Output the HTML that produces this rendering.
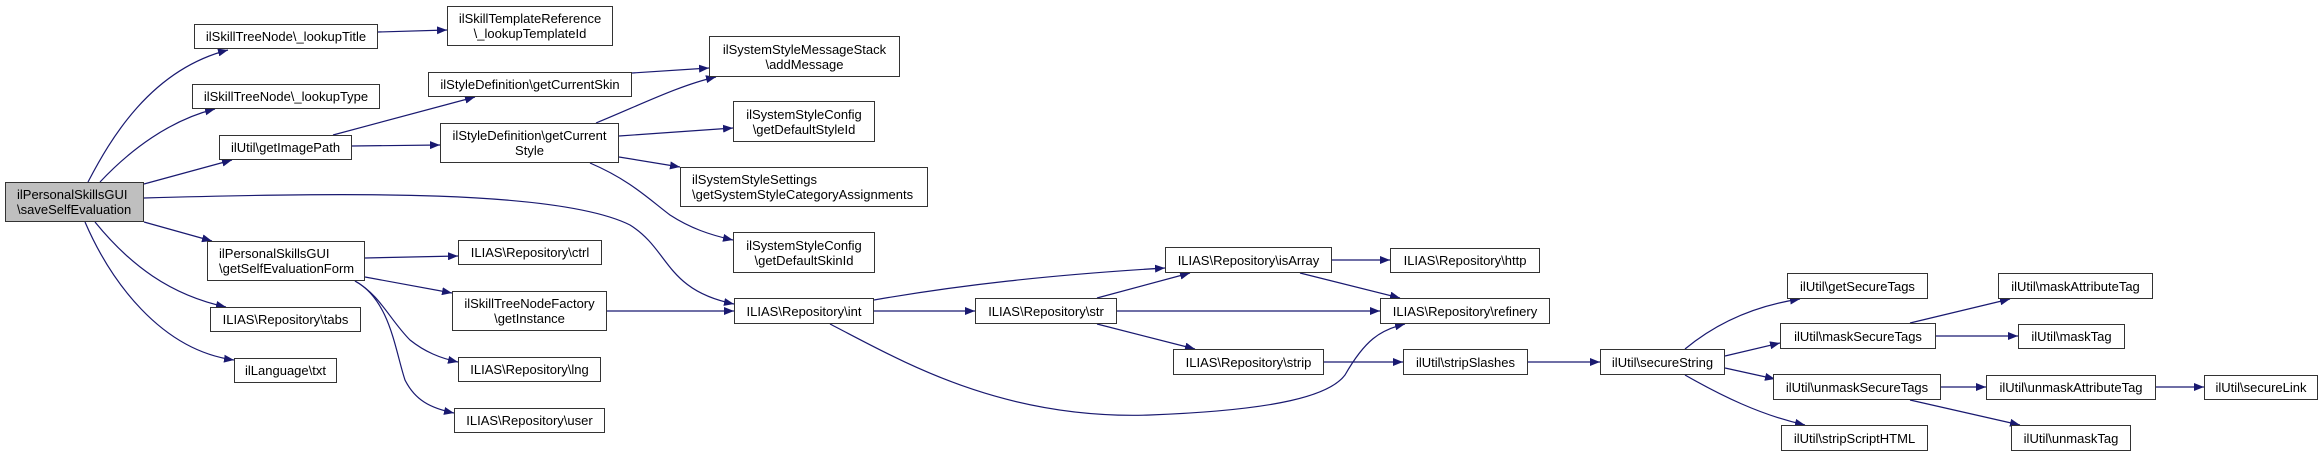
<!DOCTYPE html>
<html><head><meta charset="utf-8"><style>
html,body{margin:0;padding:0;background:#fff;}
#c{position:relative;width:2324px;height:457px;overflow:hidden;font-family:"Liberation Sans",Arial,sans-serif;font-size:13px;color:#000;}
.b{position:absolute;box-sizing:border-box;border:1.3px solid #333;background:#fff;display:flex;flex-direction:column;justify-content:center;align-items:center;line-height:15px;white-space:nowrap;}
.l{align-items:flex-start;padding-left:11px;}
svg{position:absolute;left:0;top:0;}
</style></head><body><div id="c">
<svg width="2324" height="457" viewBox="0 0 2324 457">
<defs><marker id="a" markerWidth="10" markerHeight="8" refX="10" refY="4" orient="auto" markerUnits="userSpaceOnUse"><path d="M0,0 L10,4 L0,8 z" fill="#191970"/></marker></defs>
<g fill="none" stroke="#191970" stroke-width="1.2" marker-end="url(#a)">
<path d="M88,182 C110,140 150,70 228,50"/>
<path d="M100,182 C130,150 170,120 215,109"/>
<path d="M144,184 L232,160"/>
<path d="M144,198 C350,192 560,190 630,225 C670,250 665,290 734,304"/>
<path d="M144,222 L212,241"/>
<path d="M95,222 C130,265 170,295 226,307"/>
<path d="M85,222 C110,280 160,350 234,360"/>
<path d="M378,32 L447,30"/>
<path d="M333,135 L475,97"/>
<path d="M352,146 L440,145"/>
<path d="M596,123 C640,105 680,85 716,77"/>
<path d="M632,73 L709,68"/>
<path d="M619,136 L733,128"/>
<path d="M619,157 L680,167"/>
<path d="M590,163 C630,180 650,200 670,215 C690,228 710,235 733,240"/>
<path d="M365,258 L458,256"/>
<path d="M365,277 L452,293"/>
<path d="M355,281 C380,295 390,320 410,340 C425,352 440,358 458,362"/>
<path d="M355,281 C390,300 395,350 405,380 C415,400 430,408 454,413"/>
<path d="M607,311 L734,311"/>
<path d="M874,311 L975,311"/>
<path d="M874,300 C960,285 1050,275 1165,268"/>
<path d="M830,324 C900,360 1000,420 1150,415 C1280,410 1330,395 1345,375 C1365,340 1380,330 1405,324"/>
<path d="M1097,298 L1190,273"/>
<path d="M1117,311 L1380,311"/>
<path d="M1097,324 L1195,349"/>
<path d="M1332,260 L1390,260"/>
<path d="M1300,273 L1400,298"/>
<path d="M1324,362 L1403,362"/>
<path d="M1528,362 L1600,362"/>
<path d="M1685,349 C1720,320 1760,305 1800,299"/>
<path d="M1725,356 L1780,343"/>
<path d="M1725,368 L1775,379"/>
<path d="M1685,375 C1720,395 1760,415 1805,425"/>
<path d="M1910,323 L2010,299"/>
<path d="M1936,336 L2018,336"/>
<path d="M1941,387 L1986,387"/>
<path d="M1910,400 L2020,425"/>
<path d="M2156,387 L2204,387"/>
</g></svg>
<div class="b l" style="left:5px;top:182px;width:139px;height:40px;background:#bfbfbf"><div>ilPersonalSkillsGUI</div><div>\saveSelfEvaluation</div></div>
<div class="b" style="left:194px;top:24px;width:184px;height:25px">ilSkillTreeNode\_lookupTitle</div>
<div class="b" style="left:447px;top:6px;width:166px;height:40px"><div>ilSkillTemplateReference</div><div>\_lookupTemplateId</div></div>
<div class="b" style="left:192px;top:84px;width:188px;height:25px">ilSkillTreeNode\_lookupType</div>
<div class="b" style="left:219px;top:135px;width:133px;height:25px">ilUtil\getImagePath</div>
<div class="b" style="left:428px;top:72px;width:204px;height:25px">ilStyleDefinition\getCurrentSkin</div>
<div class="b" style="left:440px;top:123px;width:179px;height:40px"><div>ilStyleDefinition\getCurrent</div><div>Style</div></div>
<div class="b l" style="left:207px;top:241px;width:158px;height:40px"><div>ilPersonalSkillsGUI</div><div>\getSelfEvaluationForm</div></div>
<div class="b" style="left:458px;top:240px;width:144px;height:25px">ILIAS\Repository\ctrl</div>
<div class="b" style="left:452px;top:291px;width:155px;height:40px"><div>ilSkillTreeNodeFactory</div><div>\getInstance</div></div>
<div class="b" style="left:458px;top:357px;width:143px;height:25px">ILIAS\Repository\lng</div>
<div class="b" style="left:454px;top:408px;width:151px;height:25px">ILIAS\Repository\user</div>
<div class="b" style="left:210px;top:307px;width:151px;height:25px">ILIAS\Repository\tabs</div>
<div class="b" style="left:234px;top:358px;width:103px;height:25px">ilLanguage\txt</div>
<div class="b" style="left:709px;top:36px;width:191px;height:41px"><div>ilSystemStyleMessageStack</div><div>\addMessage</div></div>
<div class="b" style="left:733px;top:101px;width:142px;height:41px"><div>ilSystemStyleConfig</div><div>\getDefaultStyleId</div></div>
<div class="b l" style="left:680px;top:167px;width:248px;height:40px"><div>ilSystemStyleSettings</div><div>\getSystemStyleCategoryAssignments</div></div>
<div class="b" style="left:733px;top:232px;width:142px;height:41px"><div>ilSystemStyleConfig</div><div>\getDefaultSkinId</div></div>
<div class="b" style="left:734px;top:298px;width:140px;height:26px">ILIAS\Repository\int</div>
<div class="b" style="left:975px;top:298px;width:142px;height:26px">ILIAS\Repository\str</div>
<div class="b" style="left:1165px;top:247px;width:167px;height:26px">ILIAS\Repository\isArray</div>
<div class="b" style="left:1173px;top:349px;width:151px;height:26px">ILIAS\Repository\strip</div>
<div class="b" style="left:1390px;top:248px;width:150px;height:25px">ILIAS\Repository\http</div>
<div class="b" style="left:1380px;top:298px;width:170px;height:26px">ILIAS\Repository\refinery</div>
<div class="b" style="left:1403px;top:349px;width:125px;height:26px">ilUtil\stripSlashes</div>
<div class="b" style="left:1600px;top:349px;width:125px;height:26px">ilUtil\secureString</div>
<div class="b" style="left:1787px;top:273px;width:141px;height:26px">ilUtil\getSecureTags</div>
<div class="b" style="left:1780px;top:323px;width:156px;height:26px">ilUtil\maskSecureTags</div>
<div class="b" style="left:1773px;top:374px;width:168px;height:26px">ilUtil\unmaskSecureTags</div>
<div class="b" style="left:1781px;top:425px;width:147px;height:26px">ilUtil\stripScriptHTML</div>
<div class="b" style="left:1998px;top:273px;width:155px;height:26px">ilUtil\maskAttributeTag</div>
<div class="b" style="left:2018px;top:324px;width:107px;height:25px">ilUtil\maskTag</div>
<div class="b" style="left:1986px;top:375px;width:170px;height:25px">ilUtil\unmaskAttributeTag</div>
<div class="b" style="left:2204px;top:375px;width:114px;height:25px">ilUtil\secureLink</div>
<div class="b" style="left:2011px;top:425px;width:120px;height:26px">ilUtil\unmaskTag</div>
</div></body></html>
